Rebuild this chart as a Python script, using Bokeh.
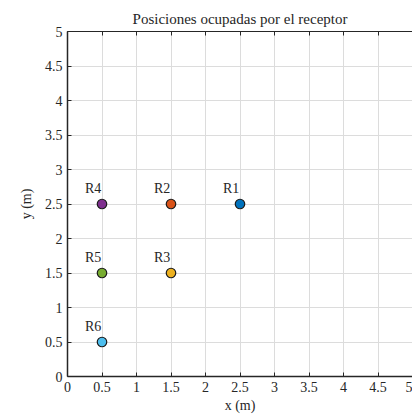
from bokeh.plotting import figure
from bokeh.models import ColumnDataSource, FixedTicker, LinearAxis, Range1d
from bokeh.embed import file_html
from bokeh.resources import INLINE
from bokeh.core.properties import value

labels = ["R1", "R2", "R3", "R4", "R5", "R6"]
xs = [2.5, 1.5, 1.5, 0.5, 0.5, 0.5]
ys = [2.5, 2.5, 1.5, 2.5, 1.5, 0.5]
colors = ["#0072BD", "#D95319", "#EDB120", "#7E2F8E", "#77AC30", "#4DBEEE"]
ticks = [0, 0.5, 1, 1.5, 2, 2.5, 3, 3.5, 4, 4.5, 5]
tick_labels = ["0", "0.5", "1", "1.5", "2", "2.5", "3", "3.5", "4", "4.5", "5"]

FONT = "Liberation Serif"
AX = "#262626"

src = ColumnDataSource(dict(x=xs, y=ys, label=labels, color=colors))

p = figure(width=412, height=415, output_backend="svg", toolbar_location=None,
           x_range=Range1d(0, 5), y_range=Range1d(0, 5),
           title="Posiciones ocupadas por el receptor",
           min_border_left=67, min_border_right=0, min_border_top=31, min_border_bottom=38)

p.title.text_font = FONT
p.title.text_font_size = "15px"
p.title.text_font_style = "normal"
p.title.align = "center"
p.title.text_color = AX
p.title.offset = 0

overrides = {t: l for t, l in zip(ticks, tick_labels)}
for ax in [p.xaxis[0], p.yaxis[0]]:
    ax.ticker = FixedTicker(ticks=ticks)
    ax.major_label_overrides = overrides
    ax.major_label_text_font = FONT
    ax.major_label_text_font_size = "14px"
    ax.major_label_text_color = AX
    ax.axis_label_text_font = FONT
    ax.axis_label_text_font_size = "14px"
    ax.axis_label_text_font_style = "normal"
    ax.axis_label_text_color = AX
    ax.axis_line_color = AX
    ax.axis_line_width = 1.5
    ax.major_tick_line_color = AX
    ax.major_tick_in = 4
    ax.major_tick_out = 0
    ax.minor_tick_line_color = None
    ax.major_label_standoff = 5

p.xaxis.axis_label = "x (m)"
p.yaxis.axis_label = "y (m)"
p.xaxis.axis_label_standoff = 3
p.yaxis.axis_label_standoff = 8

a = LinearAxis(ticker=FixedTicker(ticks=ticks), major_label_text_font_size="0px",
               major_label_text_color=None, axis_line_color=AX, axis_line_width=1.0,
               major_tick_line_color=AX, major_tick_in=4, major_tick_out=0,
               minor_tick_line_color=None, major_label_standoff=0)
p.add_layout(a, "above")

p.xgrid.ticker = FixedTicker(ticks=ticks)
p.ygrid.ticker = FixedTicker(ticks=ticks)
p.grid.grid_line_color = "#DCDCDC"
p.grid.grid_line_width = 1
p.outline_line_color = None

p.scatter("x", "y", source=src, size=9.5, fill_color="color", line_color="#1a1a1a", line_width=1.2)
p.text("x", "y", text="label", source=src, x_offset=-17, y_offset=-8,
       text_font=value(FONT), text_font_size="14px", text_color=AX,
       text_align="left", text_baseline="bottom")

open("out.html", "w").write(file_html(p, INLINE))
